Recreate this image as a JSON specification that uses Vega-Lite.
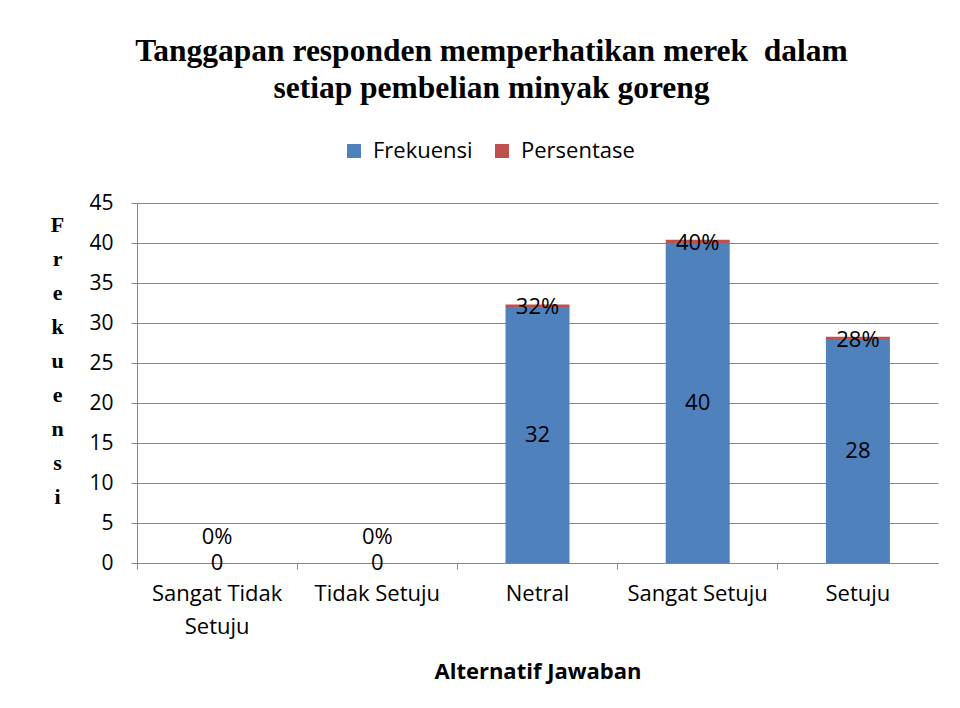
{
  "$schema": "https://vega.github.io/schema/vega-lite/v6.json",
  "width": 801,
  "height": 360,
  "autosize": {"type": "none"},
  "padding": {"left": 137, "top": 203, "right": 22, "bottom": 145},
  "background": "white",
  "title": {
    "text": ["Tanggapan responden memperhatikan merek \u00a0dalam", "setiap pembelian minyak goreng"],
    "font": "Liberation Serif",
    "fontSize": 31.5,
    "fontWeight": "bold",
    "color": "black",
    "lineHeight": 37,
    "anchor": "middle",
    "dx": -46,
    "offset": 36
  },
  "data": {
    "values": [
      {"kategori": "Sangat Tidak Setuju", "seri": "Frekuensi", "nilai": 0},
      {"kategori": "Tidak Setuju", "seri": "Frekuensi", "nilai": 0},
      {"kategori": "Netral", "seri": "Frekuensi", "nilai": 32},
      {"kategori": "Sangat Setuju", "seri": "Frekuensi", "nilai": 40},
      {"kategori": "Setuju", "seri": "Frekuensi", "nilai": 28},
      {"kategori": "Sangat Tidak Setuju", "seri": "Persentase", "nilai": 0},
      {"kategori": "Tidak Setuju", "seri": "Persentase", "nilai": 0},
      {"kategori": "Netral", "seri": "Persentase", "nilai": 0.32},
      {"kategori": "Sangat Setuju", "seri": "Persentase", "nilai": 0.40},
      {"kategori": "Setuju", "seri": "Persentase", "nilai": 0.28}
    ]
  },
  "encoding": {
    "x": {
      "field": "kategori",
      "type": "nominal",
      "sort": ["Sangat Tidak Setuju", "Tidak Setuju", "Netral", "Sangat Setuju", "Setuju"],
      "scale": {"paddingInner": 0, "paddingOuter": 0},
      "axis": {
        "title": "Alternatif Jawaban",
        "titleFont": "Open Sans",
        "titleFontSize": 22,
        "titleFontWeight": "bold",
        "titleColor": "black",
        "titlePadding": 24,
        "labelFont": "Open Sans",
        "labelFontSize": 22,
        "labelColor": "black",
        "labelAngle": 0,
        "labelPadding": 14,
        "labelLineHeight": 33,
        "labelExpr": "datum.label == 'Sangat Tidak Setuju' ? ['Sangat Tidak', 'Setuju'] : datum.label",
        "bandPosition": 0,
        "ticks": true,
        "tickSize": 6,
        "tickColor": "#868686",
        "domainColor": "#868686",
        "grid": false
      }
    }
  },
  "layer": [
    {
      "mark": {"type": "bar", "width": 64},
      "encoding": {
        "y": {
          "field": "nilai",
          "type": "quantitative",
          "stack": "zero",
          "scale": {"domain": [0, 45], "nice": false},
          "axis": {
            "values": [0, 5, 10, 15, 20, 25, 30, 35, 40, 45],
            "labelOverlap": false,
            "title": ["F", "r", "e", "k", "u", "e", "n", "s", "i"],
            "titleAngle": 0,
            "titleFont": "Liberation Serif",
            "titleFontSize": 22,
            "titleFontWeight": "bold",
            "titleColor": "black",
            "titleLineHeight": 34,
            "titleAnchor": "start",
            "titleAlign": "center",
            "titleBaseline": "top",
            "titleX": -80,
            "titleY": 11,
            "labelFont": "Open Sans",
            "labelFontSize": 21,
            "labelColor": "black",
            "labelPadding": 18,
            "tickSize": 6,
            "tickColor": "#868686",
            "domainColor": "#868686",
            "gridColor": "#868686",
            "gridWidth": 1
          }
        },
        "order": {"field": "seri", "sort": "ascending"},
        "color": {
          "field": "seri",
          "type": "nominal",
          "scale": {"domain": ["Frekuensi", "Persentase"], "range": ["#4F81BD", "#C0504D"]},
          "legend": {
            "title": null,
            "orient": "none",
            "direction": "horizontal",
            "legendX": 206,
            "legendY": -63,
            "symbolType": "square",
            "symbolSize": 196,
            "symbolStrokeWidth": 0,
            "labelFont": "Open Sans",
            "labelFontSize": 22,
            "labelColor": "black",
            "columnPadding": 18,
            "labelOffset": 8
          }
        }
      }
    },
    {
      "transform": [{"filter": "datum.seri == 'Frekuensi' && datum.nilai > 0"}],
      "mark": {"type": "text", "font": "Open Sans", "fontSize": 22, "color": "black", "baseline": "middle"},
      "encoding": {
        "y": {"field": "nilai", "type": "quantitative", "scale": {"domain": [0, 90], "nice": false}, "axis": null},
        "text": {"field": "nilai", "type": "quantitative", "format": "d"}
      }
    },
    {
      "transform": [
        {"stack": "nilai", "groupby": ["kategori"], "sort": [{"field": "seri", "order": "ascending"}], "as": ["y0", "y1"]},
        {"filter": "datum.seri == 'Persentase' && datum.nilai > 0"}
      ],
      "mark": {"type": "text", "font": "Open Sans", "fontSize": 22, "color": "black", "baseline": "middle", "dy": 3},
      "encoding": {
        "y": {"field": "y1", "type": "quantitative", "scale": {"domain": [0, 45], "nice": false}, "axis": null},
        "text": {"field": "nilai", "type": "quantitative", "format": ".0%"}
      }
    },
    {
      "transform": [{"filter": "datum.nilai == 0 && datum.seri == 'Frekuensi'"}],
      "mark": {"type": "text", "font": "Open Sans", "fontSize": 22, "color": "black", "baseline": "middle"},
      "encoding": {
        "y": {"field": "nilai", "type": "quantitative", "scale": {"domain": [0, 45], "nice": false}, "axis": null},
        "text": {"field": "nilai", "type": "quantitative", "format": "d"}
      }
    },
    {
      "transform": [{"filter": "datum.nilai == 0 && datum.seri == 'Persentase'"}],
      "mark": {"type": "text", "font": "Open Sans", "fontSize": 22, "color": "black", "baseline": "middle", "dy": -26},
      "encoding": {
        "y": {"field": "nilai", "type": "quantitative", "scale": {"domain": [0, 45], "nice": false}, "axis": null},
        "text": {"field": "nilai", "type": "quantitative", "format": ".0%"}
      }
    }
  ],
  "resolve": {"scale": {"y": "independent"}},
  "config": {"view": {"stroke": null}}
}
